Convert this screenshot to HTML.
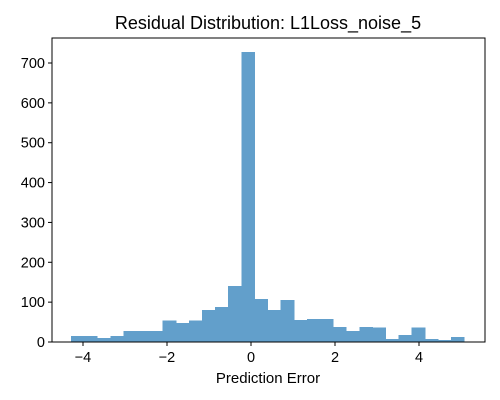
<!DOCTYPE html>
<html><head><meta charset="utf-8"><style>
body{margin:0;background:#fff}
svg{display:block;font-family:"Liberation Sans",sans-serif}
</style></head><body>
<svg id="chart" width="500" height="400">
<rect width="500" height="400" fill="#fff"/>
<text x="268" y="29" text-anchor="middle" font-size="18">Residual Distribution: L1Loss_noise_5</text>
<g id="bars" shape-rendering="crispEdges"></g>
<rect x="52" y="38" width="433" height="304" fill="none" stroke="#000" stroke-width="1"/>
<g id="xticks"></g>
<g id="yticks"></g>
<text x="268" y="383" text-anchor="middle" font-size="15">Prediction Error</text>
</svg>
<script>
const binStart = -4.286;
const binWidth = 0.312;
const counts = [15,15,10,15,28,28,28,54,48,54,80,88,141,728,108,80,105,55,58,58,38,28,38,36,8,18,36,8,5,12];
const xTicks = [-4,-2,0,2,4];
const yTicks = [0,100,200,300,400,500,600,700];
const NS="http://www.w3.org/2000/svg";
const xs = v => 251 + v*42;
const ys = v => 342 - v*0.39857;
const bars=document.getElementById('bars');
counts.forEach((c,i)=>{
  const r=document.createElementNS(NS,'rect');
  const x0=xs(binStart+i*binWidth), x1=xs(binStart+(i+1)*binWidth);
  r.setAttribute('x',x0);r.setAttribute('width',x1-x0+0.5);
  r.setAttribute('y',ys(c));r.setAttribute('height',342-ys(c));
  r.setAttribute('fill','#629fcb');
  
  
  bars.appendChild(r);
});
const xg=document.getElementById('xticks');
xTicks.forEach(t=>{
  const l=document.createElementNS(NS,'line');
  l.setAttribute('x1',xs(t));l.setAttribute('x2',xs(t));l.setAttribute('y1',342);l.setAttribute('y2',346);l.setAttribute('stroke','#000');
  
  
  xg.appendChild(l);
  const tx=document.createElementNS(NS,'text');
  tx.setAttribute('x',xs(t));tx.setAttribute('y',362);tx.setAttribute('text-anchor','middle');tx.setAttribute('font-size','14.5');
  tx.textContent=t<0?'\u2212'+Math.abs(t):t;
  
  
  xg.appendChild(tx);
});
const yg=document.getElementById('yticks');
yTicks.forEach(t=>{
  const l=document.createElementNS(NS,'line');
  l.setAttribute('x1',48);l.setAttribute('x2',52);l.setAttribute('y1',ys(t));l.setAttribute('y2',ys(t));l.setAttribute('stroke','#000');
  
  
  yg.appendChild(l);
  const tx=document.createElementNS(NS,'text');
  tx.setAttribute('x',45);tx.setAttribute('y',ys(t)+5);tx.setAttribute('text-anchor','end');tx.setAttribute('font-size','14.5');
  tx.textContent=t;
  
  
  yg.appendChild(tx);
});
</script>
</body></html>
